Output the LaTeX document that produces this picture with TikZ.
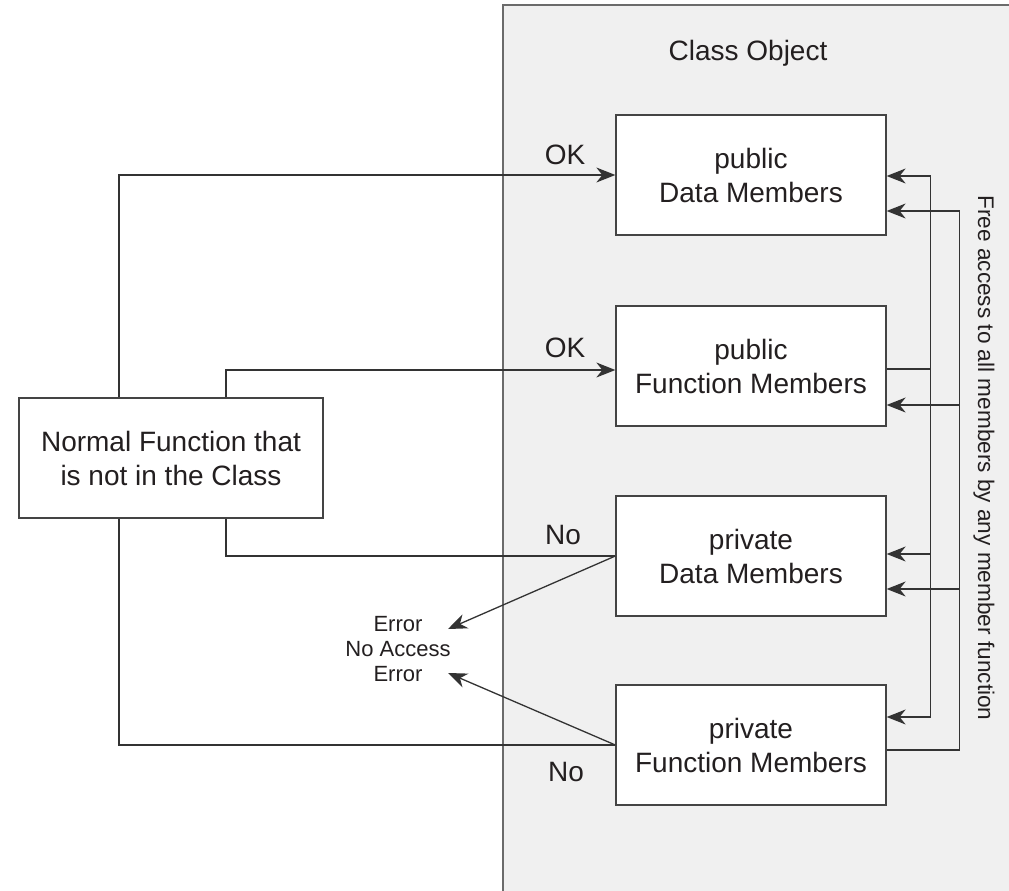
\documentclass[tikz,border=0pt]{standalone}
\usepackage{fontspec}
\setmainfont{Liberation Sans}
\usetikzlibrary{arrows.meta}
\definecolor{panel}{HTML}{F0F0F0}
\definecolor{panelb}{HTML}{6B6B6B}
\definecolor{ln}{HTML}{333333}
\definecolor{boxc}{HTML}{444444}
\definecolor{txt}{HTML}{231F20}
\begin{document}
\begin{tikzpicture}[x=1pt,y=-1pt,
  mbox/.style={draw=boxc,fill=white,line width=1.3pt,minimum width=270pt,minimum height=120pt,align=center,font=\fontsize{28}{34}\selectfont,text=txt,inner sep=0pt},
  conn/.style={draw=ln,line width=1.3pt},
  arr/.style={conn,-{Stealth[length=19pt,width=15pt,inset=6pt]}},
  big/.style={font=\fontsize{28}{34}\selectfont,text=txt,inner sep=0pt},
  small/.style={font=\fontsize{22}{25}\selectfont,text=txt,align=center,inner sep=0pt}]
\useasboundingbox (0,0) rectangle (1009,891);
\fill[white] (0,0) rectangle (1009,891);
\fill[panel] (503,5) rectangle (1009,891);
\draw[panelb,line width=1.3pt] (503,891) -- (503,5) -- (1009,5);

\node[mbox] (b1) at (751,175) {public\\Data Members};
\node[mbox] (b2) at (751,366) {public\\Function Members};
\node[mbox] (b3) at (751,556) {private\\Data Members};
\node[mbox] (b4) at (751,745) {private\\Function Members};
\node[mbox,minimum width=304pt] (lf) at (171,458) {Normal Function that\\is not in the Class};
\node[big] (co) at (748,53) {Class Object};
\node[small] (err) at (398,649) {Error\\No Access\\Error};
\node[small,font=\fontsize{22.6}{25}\selectfont,rotate=-90] (fa) at (984,458) {Free access to all members by any member function};

\node[big] (ok1) at (565,155) {OK};
\node[big] (ok2) at (565,348) {OK};
\node[big] (no1) at (563,535) {No};
\node[big] (no2) at (566,772) {No};

\coordinate (e1) at (448,629);
\coordinate (e2) at (448,673);

\draw[arr] ([xshift=-52pt]lf.north) |- (b1.west);
\draw[arr] ([xshift=55pt]lf.north) |- ([yshift=-4pt]b2.west);
\draw[conn] ([xshift=55pt]lf.south) |- (b3.west);
\draw[conn] ([xshift=-52pt]lf.south) |- (b4.west);
\draw[arr] (b3.west) -- (e1);
\draw[arr] (b4.west) -- (e2);

\draw[conn] ([yshift=-3pt]b2.east) -- ++(44,0) coordinate (i1);
\draw[arr] (i1) |- ([yshift=-1pt]b1.east);
\draw[arr] (i1) |- ([yshift=2pt]b3.east);
\draw[arr] (i1) |- ([yshift=28pt]b4.east);
\draw[conn] ([yshift=-5pt]b4.east) -- ++(73,0) coordinate (o1);
\draw[arr] (o1) |- ([yshift=-36pt]b1.east);
\draw[arr] (o1) |- ([yshift=-39pt]b2.east);
\draw[arr] (o1) |- ([yshift=-33pt]b3.east);
\end{tikzpicture}
\end{document}
